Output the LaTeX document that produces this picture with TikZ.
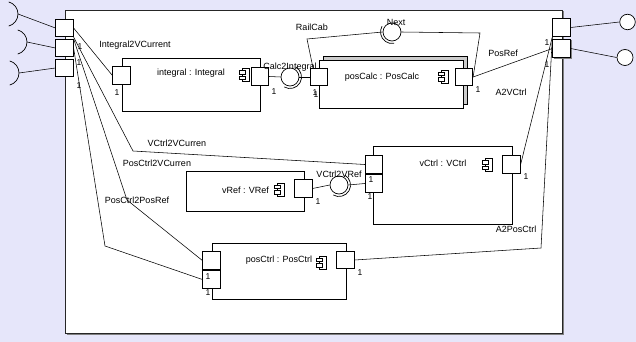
\documentclass[tikz,border=0pt]{standalone}
\usepackage{fontspec}
\setmainfont{Liberation Sans}
\definecolor{lav}{RGB}{230,230,250}
\begin{document}
\begin{tikzpicture}[x=1pt,y=-1pt, font=\fontsize{9}{10}\selectfont,
  port/.style={draw, fill=white, minimum width=17.5pt, minimum height=17.5pt, inner sep=0pt, line width=0.7pt},
  comp/.style={draw, fill=white, inner sep=0pt, line width=0.7pt},
  conn/.style={line width=0.55pt},
  lbl/.style={inner sep=0pt},
  mult/.style={inner sep=0pt, font=\fontsize{8.5}{9}\selectfont},
  ball/.style={circle, draw, fill=white, minimum size=18pt, inner sep=0pt, line width=0.7pt},
  lolli/.style={circle, draw, fill=white, minimum size=15.5pt, inner sep=0pt, line width=0.7pt},
  cicon/.pic={
    \draw[fill=white, line width=0.5pt] (-3,-6.5) rectangle (4,6.5);
    \draw[fill=white, line width=0.5pt] (-6,-4.5) rectangle (0,-1.2);
    \draw[fill=white, line width=0.5pt] (-6,1.2) rectangle (0,4.5);
  }]
\fill[lav] (0,0) rectangle (636,342);
\useasboundingbox (0,0) rectangle (636,342);
% outer frame
\draw[gray, line width=1pt] (66.5,334.5) -- (563.5,334.5) -- (563.5,11.5);
\draw[fill=white, draw=black!85, line width=0.8pt] (65,10) rectangle (562,333);

% components
\node[comp, minimum width=138pt, minimum height=53pt] (integral) at (191,84.5) {};
\node[lbl] at (191,73) {integral : Integral};
\pic at (245,75) {cicon};

\draw[fill=black!20, line width=0.7pt] (323,56) rectangle (467,104);
\node[comp, minimum width=144pt, minimum height=48pt] (poscalc) at (391,84) {};
\node[lbl] at (382,77) {posCalc : PosCalc};
\pic at (444,76.5) {cicon};

\node[comp, minimum width=139pt, minimum height=78pt] (vctrl) at (442.5,185) {};
\node[lbl] at (443,163) {vCtrl : VCtrl};
\pic at (488,165) {cicon};

\node[comp, minimum width=118pt, minimum height=40pt] (vref) at (245,191) {};
\node[lbl] at (245.5,190) {vRef : VRef};
\pic at (280,189.5) {cicon};

\node[comp, minimum width=134pt, minimum height=56pt] (posctrl) at (279,271) {};
\node[lbl] at (279,260) {posCtrl : PosCtrl};
\pic at (322,262.5) {cicon};

% ports
\node[port] (LP1) at (64.5,28) {};
\node[port] (LP2) at (64.5,48) {};
\node[port] (LP3) at (64.5,68) {};
\node[port] (RP1) at (561.5,27.5) {};
\draw[gray, line width=1.2pt] (553.5,58.5) -- (571.5,58.5) -- (571.5,40.5);
\node[port] (RP2) at (561.5,48.5) {};
\node[port] (IL) at (121.5,75.5) {};
\node[port] (IR) at (260,76.5) {};
\node[port] (PCL) at (319,77) {};
\node[port] (PCR) at (464,77) {};
\node[port] (VL1) at (374,164.5) {};
\node[port] (VL2) at (374,183.5) {};
\node[port] (VR) at (511.5,164.5) {};
\node[port] (VRR) at (303.5,188.5) {};
\node[port] (PL1) at (211.5,260.5) {};
\node[port] (PL2) at (211.5,279.5) {};
\node[port] (PR) at (345.5,260) {};

% sockets on left
\coordinate (s1) at (18,14);
\coordinate (s2) at (27,42);
\coordinate (s3) at (19,73);
\foreach \s in {s1,s2,s3}{
  \draw[line width=0.7pt] (\s) arc[start angle=0, end angle=75, radius=12.5];
  \draw[line width=0.7pt] (\s) arc[start angle=0, end angle=-75, radius=12.5];
}
\draw[conn] (s1) -- (LP1.west);
\draw[conn] (s2) -- (LP2.west);
\draw[conn] (s3) -- (LP3.west);

% lollipops on right
\node[lolli] (l1) at (627.5,22) {};
\node[lolli, minimum size=16pt] (l2) at (625,57.5) {};
\draw[conn] (RP1.east) -- (l1.west);
\draw[conn] (RP2.east) -- (l2.west);

% balls
\node[ball] (b1) at (290,77) {};
\draw[line width=0.7pt] ([shift={(b1.center)}]-60:11.5) arc[start angle=-60, end angle=120, radius=11.5];
\node[ball] (bn) at (392,32) {};
\draw[line width=0.7pt] ([shift={(bn.center)}]80:11.5) arc[start angle=80, end angle=210, radius=11.5];
\node[ball] (b3) at (339,185) {};
\draw[line width=0.7pt] ([shift={(b3.center)}]-60:11.5) arc[start angle=-60, end angle=120, radius=11.5];

% connectors
\draw[conn] (LP1.east) -- (IL.west);
\coordinate (cC) at (133,151);
\draw[conn] (LP1.south east) -- (cC) -- (VL1.west);
\coordinate (cB) at (127,200);
\draw[conn] (LP2.north east) -- (cB) -- (PL1.west);
\coordinate (cA) at (105,246);
\draw[conn] (LP2.east) -- (cA) -- (PL2.west);

\draw[conn] (IR.east) -- (b1.west);
\draw[conn] (b1.east) -- (PCL.west);

\coordinate (rc) at (307,39);
\draw[conn] ([xshift=-6pt]PCL.north) -- (rc) -- (bn.west);
\coordinate (nx) at (480,33);
\draw[conn] (bn.east) -- (nx) -- (PCR.east);

\draw[conn] (PCR.east) -- (RP2.west);
\draw[conn] (RP1.south west) -- (VR.east);
\coordinate (ap) at (541,248);
\draw[conn] ([yshift=1pt]RP1.south west) -- (ap) -- (PR.east);

\draw[conn] (VRR.east) -- (b3.west);
\draw[conn] (b3.east) -- (VL2.west);

% labels
\node[lbl] at (135,45) {Integral2VCurrent};
\node[lbl] at (290,67) {Calc2Integral};
\node[lbl] at (312,27) {RailCab};
\node[lbl] at (396,22) {Next};
\node[lbl] at (503,53) {PosRef};
\node[lbl] at (511,92) {A2VCtrl};
\node[lbl] at (177,143) {VCtrl2VCurren};
\node[lbl] at (157,163) {PosCtrl2VCurren};
\node[lbl] at (137,200) {PosCtrl2PosRef};
\node[lbl] at (339,174) {VCtrl2VRef};
\node[lbl] at (516,229) {A2PosCtrl};

% multiplicities
\foreach \p in {(80,47),(79,63),(79,86),(117,93),(274,92),(315,93),(316,94.5),(478,90),(547,43),(547,65),(371,180),(370,197),(526,177),(318,202),(208,277),(208,293),(360,273)}{
  \node[mult] at \p {1};
}
\end{tikzpicture}
\end{document}
